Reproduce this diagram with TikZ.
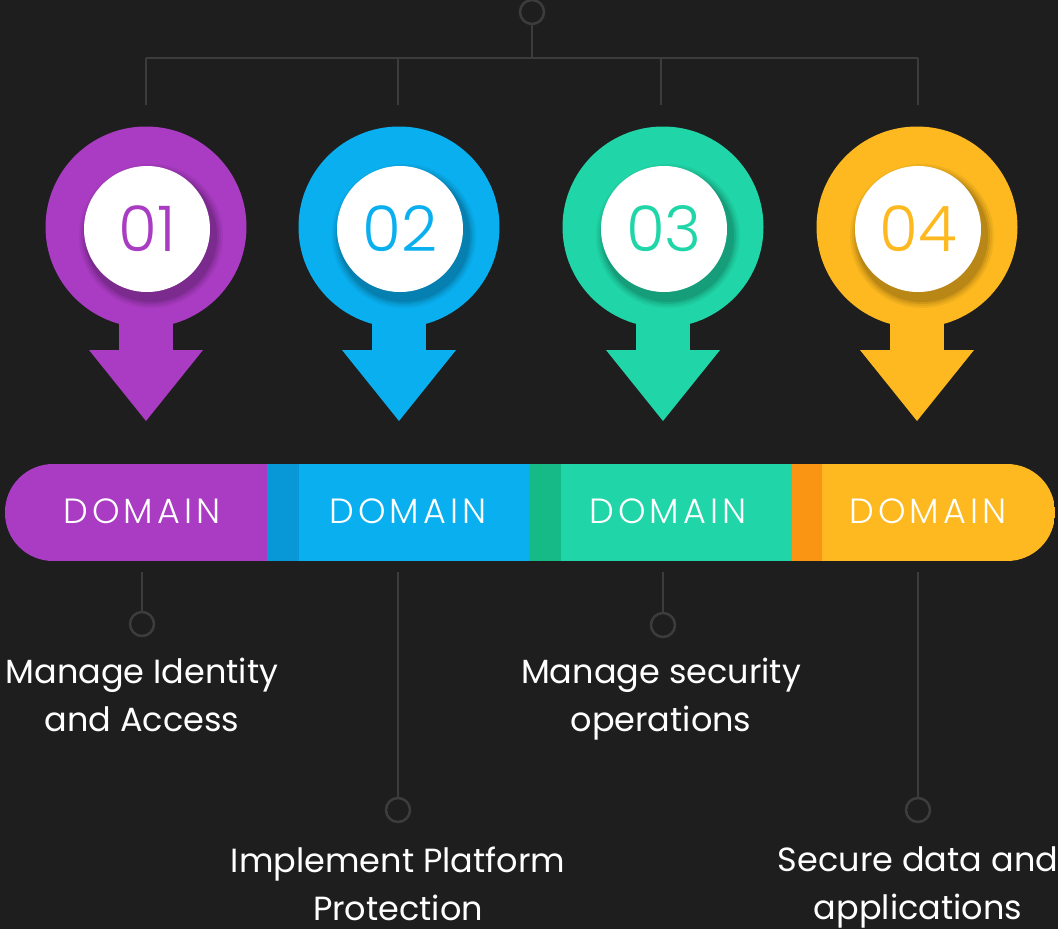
\documentclass[tikz,border=0pt]{standalone}
\usepackage{fontspec}
\setmainfont{Poppins}
\newfontfamily\thinfont[LetterSpace=0]{Poppins Light}
\newfontfamily\spacedfont[LetterSpace=12]{Poppins Light}
\usetikzlibrary{positioning,calc}
\definecolor{bgcol}{HTML}{1E1E1E}
\definecolor{wirecol}{HTML}{3C3C3C}
\definecolor{purp}{HTML}{A93CC2}
\definecolor{sky}{HTML}{0AAFF0}
\definecolor{skydark}{HTML}{0898D8}
\definecolor{mint}{HTML}{20D6A8}
\definecolor{mintdark}{HTML}{16BA86}
\definecolor{gold}{HTML}{FDB91F}
\definecolor{golddark}{HTML}{FA9413}
\tikzset{
    wire/.style={draw=wirecol, line width=2.5pt},
    knob/.style={circle, draw=wirecol, line width=2.5pt, minimum size=24pt, inner sep=0pt},
    pin/.style={circle, fill=#1, minimum size=201pt, inner sep=0pt},
    badge/.style={circle, fill=white, minimum size=126pt, inner sep=0pt, text=#1,
        font=\thinfont\fontsize{63}{63}\selectfont},
    tag/.style={text=white, font=\spacedfont\fontsize{35}{35}\selectfont},
    desc/.style={text=white, align=center, font=\fontsize{33.5}{48}\selectfont}
}

\begin{document}
\begin{tikzpicture}[x=1pt, y=-1pt]
    \fill[bgcol] (0,0) rectangle (1058,929);
    \useasboundingbox (0,0) rectangle (1058,929);

    % top tree
    \node[knob] (root) at (532,12) {};
    \coordinate (hub) at (532,58);
    \draw[wire] (root) -- (hub);
    \draw[wire] (146,58) -- (918,58);
    \foreach \x in {146,398,661,918}
        \draw[wire] (\x,58) -- (\x,105);

    % pins with arrows
    \foreach \x/\col/\num in {146/purp/01, 399/sky/02, 663/mint/03, 917/gold/04} {
        \fill[\col] (\x-27,300) rectangle (\x+27,351);
        \fill[\col] (\x-57,350) -- (\x+57,350) -- (\x,421) -- cycle;
        \node[pin=\col] (pin\num) at (\x,227) {};
        \foreach \r/\o in {72/0.05, 70/0.06, 68/0.08, 66/0.1} {
            \fill[black, opacity=\o] (\x+5,236) circle (\r);
        }
        \node[badge=\col, xshift=1pt] (badge\num) at (\x,229) {\num};
    }

    % domain bar
    \begin{scope}
        \clip[rounded corners=48pt] (5,464) rectangle (1055,561);
        \fill[purp] (5,464) rectangle (267,561);
        \fill[skydark] (267,464) rectangle (299,561);
        \fill[sky] (299,464) rectangle (529,561);
        \fill[mintdark] (529,464) rectangle (561,561);
        \fill[mint] (561,464) rectangle (792,561);
        \fill[golddark] (792,464) rectangle (822,561);
        \fill[gold] (822,464) rectangle (1055,561);
    \end{scope}
    \node[tag] (tag1) at (142,511) {DOMAIN};
    \node[tag] (tag2) at (408,511) {DOMAIN};
    \node[tag] (tag3) at (668,511) {DOMAIN};
    \node[tag] (tag4) at (928,511) {DOMAIN};

    % lower leads
    \node[knob] (end1) at (142,624) {};
    \node[knob] (end2) at (398,810) {};
    \node[knob] (end3) at (663,625) {};
    \node[knob] (end4) at (918,810) {};
    \draw[wire] (142,572) -- (end1);
    \draw[wire] (398,572) -- (end2);
    \draw[wire] (663,572) -- (end3);
    \draw[wire] (918,572) -- (end4);

    \node[desc, below=17pt of end1] (txt1) {Manage Identity\\and Access};
    \node[desc, below=20pt of end2] (txt2) {Implement Platform\\Protection};
    \node[desc, below=16pt of end3, xshift=-2pt] (txt3) {Manage security\\operations};
    \node[desc, below=20pt of end4] (txt4) {Secure data and\\applications};
\end{tikzpicture}
\end{document}
